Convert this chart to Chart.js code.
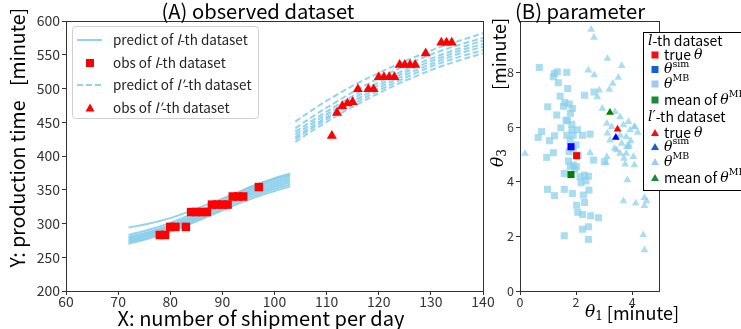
<!DOCTYPE html>
<html>
<head>
<meta charset="utf-8">
<script src="https://cdn.jsdelivr.net/npm/chart.js@4.4.1/dist/chart.umd.min.js"></script>
<style>
    body { margin: 0; background: #fff; width: 741px; height: 329px; overflow: hidden; position: relative; }
    canvas { position: absolute; top: 0; }
    #chartA { left: 0; }
    #chartB { left: 440px; }
</style>
</head>
<body>
<canvas id="chartA" width="500" height="329"></canvas>
<canvas id="chartB" width="301" height="329"></canvas>
<script>
// ---- (A) observed dataset ----
const lGridX = [72, 76, 80, 84, 88, 92, 96, 100, 103];
const lPredict = [
    [270, 278, 288, 300, 313, 326, 338, 348, 355],
    [272, 280, 290, 302, 315, 329, 341, 351, 358],
    [274, 282, 292, 304, 318, 332, 344, 354, 361],
    [276, 284, 294, 306, 320, 334, 347, 357, 364],
    [278, 286, 296, 308, 322, 337, 350, 360, 367],
    [280, 288, 298, 310, 324, 339, 353, 363, 370],
    [283, 291, 301, 313, 327, 342, 356, 367, 374],
    [294, 300, 308, 319, 331, 343, 356, 366, 372]
];
const lpGridX = [104, 108, 112, 116, 120, 124, 128, 132, 136, 140];
const lpPredict = [
    [421, 441, 460, 477, 493, 508, 521, 533, 543, 552],
    [425, 445, 464, 481, 497, 512, 526, 538, 548, 557],
    [428, 448, 467, 485, 501, 516, 530, 542, 553, 562],
    [432, 452, 471, 489, 505, 520, 534, 546, 557, 566],
    [436, 456, 475, 493, 509, 524, 538, 550, 561, 571],
    [441, 462, 481, 499, 515, 530, 544, 556, 566, 575],
    [451, 472, 491, 508, 523, 537, 550, 562, 572, 582]
];
const lObsX = [78, 79, 80, 81, 83, 84, 85, 86, 87, 88, 89, 90, 91, 92, 93, 94, 97];
const lObsY = [283, 283, 295, 295, 295, 317, 317, 317, 317, 328, 328, 328, 328, 340, 340, 340, 354];
const lpObsX = [111, 112, 113, 114, 115, 116, 118, 119, 120, 121, 122, 123, 124, 125, 126, 127, 129, 132, 133, 134];
const lpObsY = [430, 464, 474, 478, 480, 499, 499, 499, 517, 517, 517, 517, 535, 535, 535, 535, 552, 568, 568, 568];
const xTicksA = [60, 70, 80, 90, 100, 110, 120, 130, 140];
const yTicksA = [200, 250, 300, 350, 400, 450, 500, 550, 600];

// ---- (B) parameter ----
const mbSqX = [0.69, 1.23, 1.33, 1.19, 1.37, 1.67, 1.70, 1.43, 2.30, 2.64, 1.76, 1.55, 1.87, 0.99, 1.31, 1.64,
    1.46, 1.69, 1.85, 0.77, 0.65, 1.23, 1.05, 1.67, 1.90, 2.23, 2.50, 1.19, 0.95, 1.79, 1.75, 1.90, 1.73, 1.90,
    2.08, 1.79, 2.02, 2.14, 2.62, 3.01, 1.58, 2.30, 2.44, 2.18, 2.35, 0.98, 1.58, 1.23, 1.87, 2.46, 2.26, 2.30,
    2.02, 2.06, 2.23, 2.52, 2.80, 2.23, 2.44, 1.58, 2.44, 1.95, 2.05, 1.85, 1.60, 1.80, 2.00];
const mbSqY = [8.18, 7.96, 8.02, 7.84, 7.62, 8.00, 7.41, 7.13, 7.16, 7.28, 6.84, 6.76, 6.68, 6.74, 6.44, 6.25,
    5.97, 6.23, 5.89, 5.83, 5.62, 5.68, 5.50, 5.70, 5.70, 5.70, 5.74, 5.06, 4.89, 5.52, 5.10, 5.20, 4.76, 4.61,
    4.97, 4.55, 4.55, 4.18, 4.79, 4.73, 4.30, 4.24, 4.20, 3.96, 4.03, 3.72, 3.72, 3.49, 3.57, 3.69, 3.51, 3.24,
    3.14, 2.88, 2.80, 2.75, 2.68, 2.26, 2.35, 2.02, 1.89, 4.45, 5.90, 6.10, 6.90, 6.50, 5.35];
const mbTriX = [2.54, 2.64, 3.12, 2.44, 2.65, 3.63, 3.51, 3.31, 3.19, 2.83, 2.76, 2.94, 3.39, 3.57, 3.10, 3.27,
    3.69, 3.87, 4.08, 3.93, 3.12, 3.57, 3.79, 3.21, 3.63, 3.81, 3.45, 3.57, 0.18, 2.50, 3.37, 3.79, 3.89, 3.71,
    3.75, 3.07, 4.08, 3.83, 3.69, 4.13, 4.44, 4.52, 4.44, 4.40, 4.44, 4.10, 3.87, 4.05, 3.10, 3.95, 4.20];
const mbTriY = [9.57, 9.28, 8.51, 8.08, 7.90, 8.24, 7.81, 7.59, 7.37, 7.35, 7.10, 6.68, 6.56, 6.37, 6.13, 6.01,
    6.07, 6.19, 6.01, 5.89, 5.77, 5.70, 5.64, 5.52, 5.40, 5.28, 5.16, 5.03, 5.03, 5.06, 5.21, 5.03, 5.34, 4.85,
    4.64, 4.69, 4.61, 4.06, 3.29, 3.21, 3.41, 3.29, 3.12, 2.05, 1.50, 6.00, 5.28, 4.91, 4.91, 5.50, 5.80];
const lTrue = [2.02, 4.95], lSim = [1.82, 5.28], lMean = [1.82, 4.26];
const lpTrue = [3.48, 5.92], lpSim = [3.42, 5.62], lpMean = [3.21, 6.53];
const xTicksB = [0, 2, 4];
const yTicksB = [0, 2, 4, 6, 8];

const FONT = '"Noto Sans CJK JP", "Noto Sans", sans-serif';
const MATH = '"DejaVu Serif", serif';
const SKY = 'rgba(135, 206, 235, 0.9)';
const SKY_PT = 'rgba(135, 206, 235, 0.7)';

const pts = (xs, ys) => xs.map((x, i) => ({ x: x, y: ys[i] }));

// draw a row of text pieces with different fonts
function runs(ctx, parts, x, y, align) {
    let total = 0;
    parts.forEach(p => { ctx.font = p.f; p.w = ctx.measureText(p.t).width; total += p.w; });
    let cx = align === 'center' ? x - total / 2 : x;
    parts.forEach(p => { ctx.font = p.f; ctx.fillText(p.t, cx, y + (p.dy || 0)); cx += p.w; });
}

// font string whose text spans the given width
function fitFont(ctx, text, width) {
    ctx.font = '20px ' + FONT;
    const size = 20 * width / ctx.measureText(text).width;
    return size.toFixed(2) + 'px ' + FONT;
}

function axisScale(ticks, fontSize, fitSize, pad) {
    return {
        ticks: { font: { family: FONT, size: fontSize }, color: '#333', padding: pad },
        grid: { display: true, drawOnChartArea: false, drawTicks: true, tickLength: 4, color: '#333' },
        border: { display: false },
        afterBuildTicks: s => { s.ticks = ticks.map(v => ({ value: v })); },
        afterFit: fitSize
    };
}

const boxPlugin = {
    id: 'box',
    afterDatasetsDraw(chart) {
        const { ctx, chartArea: a } = chart;
        ctx.save();
        ctx.strokeStyle = '#333';
        ctx.lineWidth = 1;
        ctx.strokeRect(a.left + 0.5, a.top + 0.5, a.right - a.left, a.bottom - a.top);
        ctx.restore();
    }
};

// Panel A texts and legend
const textA = {
    id: 'textA',
    afterDraw(chart) {
        const ctx = chart.ctx;
        ctx.save();
        ctx.fillStyle = '#000';
        ctx.textBaseline = 'middle';
        ctx.textAlign = 'left';
        let t = '(A) observed dataset';
        runs(ctx, [{ t: t, f: fitFont(ctx, t, 193) }], 258, 11, 'center');
        t = 'X: number of shipment per day';
        runs(ctx, [{ t: t, f: fitFont(ctx, t, 287) }], 261, 318, 'center');
        ctx.save();
        ctx.translate(18, 0);
        ctx.rotate(-Math.PI / 2);
        runs(ctx, [{ t: 'Y: production time', f: '19.5px ' + FONT }], -184, 0, 'center');
        runs(ctx, [{ t: '[minute]', f: '19.5px ' + FONT }], -47, 0, 'center');
        ctx.restore();

        // legend box
        ctx.beginPath();
        ctx.roundRect(72.5, 26.5, 186, 92, 3);
        ctx.fillStyle = 'rgba(255,255,255,0.8)';
        ctx.fill();
        ctx.strokeStyle = '#d0d0d0';
        ctx.lineWidth = 1;
        ctx.stroke();

        ctx.strokeStyle = SKY;
        ctx.lineWidth = 2;
        ctx.beginPath(); ctx.moveTo(77, 40); ctx.lineTo(102, 40); ctx.stroke();
        ctx.setLineDash([6, 3]);
        ctx.beginPath(); ctx.moveTo(77, 85); ctx.lineTo(102, 85); ctx.stroke();
        ctx.setLineDash([]);
        ctx.fillStyle = '#ff0000';
        ctx.fillRect(86, 59, 8, 8);
        ctx.beginPath(); ctx.moveTo(90, 103.5); ctx.lineTo(94.5, 111.5); ctx.lineTo(85.5, 111.5); ctx.closePath(); ctx.fill();

        const n = '13.5px ' + FONT, it = 'italic 13.5px ' + FONT;
        ctx.fillStyle = '#222';
        runs(ctx, [{ t: 'predict of ', f: n }, { t: 'l', f: it }, { t: '-th dataset', f: n }], 113, 40);
        runs(ctx, [{ t: 'obs of ', f: n }, { t: 'l', f: it }, { t: '-th dataset', f: n }], 113, 63);
        runs(ctx, [{ t: 'predict of ', f: n }, { t: 'l\u2032', f: it }, { t: '-th dataset', f: n }], 113, 85);
        runs(ctx, [{ t: 'obs of ', f: n }, { t: 'l\u2032', f: it }, { t: '-th dataset', f: n }], 113, 108);
        ctx.restore();
    }
};

new Chart(document.getElementById('chartA'), {
    type: 'scatter',
    data: {
        datasets: [
            { data: pts(lObsX, lObsY), pointStyle: 'rect', pointRadius: 6, backgroundColor: '#ff0000', borderWidth: 0, order: 0 },
            { data: pts(lpObsX, lpObsY), pointStyle: 'triangle', pointRadius: 5.8, backgroundColor: '#ff0000', borderWidth: 0, order: 0 },
            ...lPredict.map(ys => ({
                data: pts(lGridX, ys), showLine: true, pointRadius: 0, borderColor: SKY, borderWidth: 2, tension: 0.4, order: 1
            })),
            ...lpPredict.map(ys => ({
                data: pts(lpGridX, ys), showLine: true, pointRadius: 0, borderColor: SKY, borderWidth: 2, tension: 0.4,
                borderDash: [6, 3], order: 1
            }))
        ]
    },
    options: {
        responsive: false,
        animation: false,
        layout: { padding: { left: 0, right: 17, top: 21, bottom: 0 } },
        plugins: { legend: { display: false }, tooltip: { enabled: false } },
        scales: {
            x: Object.assign({ type: 'linear', min: 60, max: 140 }, axisScale(xTicksA, 14, s => { s.height = 38; }, -2)),
            y: Object.assign({ type: 'linear', min: 200, max: 600 }, axisScale(yTicksA, 14, s => { s.width = 66; }, 2))
        }
    },
    plugins: [boxPlugin, textA]
});

// Panel B texts and legend
const textB = {
    id: 'textB',
    afterDraw(chart) {
        const ctx = chart.ctx;
        ctx.save();
        ctx.fillStyle = '#000';
        ctx.textBaseline = 'middle';
        const t = '(B) parameter';
        runs(ctx, [{ t: t, f: fitFont(ctx, t, 130) }], 140, 11, 'center');
        runs(ctx, [{ t: '\u03b8', f: 'italic 17px ' + MATH }, { t: '1', f: '12px ' + MATH, dy: 4 },
            { t: ' [minute]', f: '18px ' + FONT }], 192, 313, 'center');
        ctx.save();
        ctx.translate(59, 0);
        ctx.rotate(-Math.PI / 2);
        runs(ctx, [{ t: '\u03b8', f: 'italic 17px ' + MATH }, { t: '3', f: '12px ' + MATH, dy: 4 }], -158, 0, 'center');
        runs(ctx, [{ t: '[minute]', f: '18px ' + FONT }], -54, 0, 'center');
        ctx.restore();

        // legend
        ctx.fillStyle = '#fff';
        ctx.fillRect(203.5, 32.5, 120, 158);
        ctx.strokeStyle = '#000';
        ctx.lineWidth = 1;
        ctx.strokeRect(203.5, 32.5, 120, 158);

        const n = '14px ' + FONT, th = 'italic 14px ' + MATH, sup = '9.5px ' + MATH;
        ctx.fillStyle = '#000';
        runs(ctx, [{ t: 'l', f: th }, { t: '-th dataset', f: n }], 208, 41);
        runs(ctx, [{ t: 'l\u2032', f: th }, { t: '-th dataset', f: n }], 208, 117);
        const rows = [
            [55, '#ee1111', 'true'], [69.5, '#1560d0', 'sim'], [84, '#a0c8f8', 'MB'], [100, '#188a3a', 'mean'],
            [133, '#ee1111', 'true'], [147, '#1560d0', 'sim'], [162, '#a0c8f8', 'MB'], [178, '#188a3a', 'mean']
        ];
        rows.forEach((r, i) => {
            const y = r[0];
            ctx.fillStyle = r[1];
            if (i < 4) {
                ctx.fillRect(211.5, y - 3.5, 7, 7);
            } else {
                ctx.beginPath(); ctx.moveTo(215, y - 4); ctx.lineTo(219, y + 3); ctx.lineTo(211, y + 3); ctx.closePath(); ctx.fill();
            }
            ctx.fillStyle = '#000';
            let parts;
            if (r[2] === 'true') parts = [{ t: 'true ', f: n }, { t: '\u03b8', f: th }];
            else if (r[2] === 'mean') parts = [{ t: 'mean of ', f: n }, { t: '\u03b8', f: th }, { t: 'MB', f: sup, dy: -5 }];
            else parts = [{ t: '\u03b8', f: th }, { t: r[2], f: sup, dy: -5 }];
            runs(ctx, parts, 224, y);
        });
        ctx.restore();
    }
};

new Chart(document.getElementById('chartB'), {
    type: 'scatter',
    data: {
        datasets: [
            { data: [{ x: lTrue[0], y: lTrue[1] }], pointStyle: 'rect', pointRadius: 5, backgroundColor: '#ff0000', borderWidth: 0, order: 0 },
            { data: [{ x: lSim[0], y: lSim[1] }], pointStyle: 'rect', pointRadius: 5, backgroundColor: '#0000ff', borderWidth: 0, order: 0 },
            { data: [{ x: lMean[0], y: lMean[1] }], pointStyle: 'rect', pointRadius: 5, backgroundColor: '#008000', borderWidth: 0, order: 0 },
            { data: [{ x: lpTrue[0], y: lpTrue[1] }], pointStyle: 'triangle', pointRadius: 4.5, backgroundColor: '#ff0000', borderWidth: 0, order: 0 },
            { data: [{ x: lpSim[0], y: lpSim[1] }], pointStyle: 'triangle', pointRadius: 4.5, backgroundColor: '#0000ff', borderWidth: 0, order: 0 },
            { data: [{ x: lpMean[0], y: lpMean[1] }], pointStyle: 'triangle', pointRadius: 4.5, backgroundColor: '#008000', borderWidth: 0, order: 0 },
            { data: pts(mbSqX, mbSqY), pointStyle: 'rect', pointRadius: 5, backgroundColor: SKY_PT, borderWidth: 0, order: 1 },
            { data: pts(mbTriX, mbTriY), pointStyle: 'triangle', pointRadius: 4.5, backgroundColor: SKY_PT, borderWidth: 0, order: 1 }
        ]
    },
    options: {
        responsive: false,
        animation: false,
        layout: { padding: { left: 0, right: 82, top: 21, bottom: 0 } },
        plugins: { legend: { display: false }, tooltip: { enabled: false } },
        scales: {
            x: Object.assign({ type: 'linear', min: 0, max: 4.96 }, axisScale(xTicksB, 12.5, s => { s.height = 38; }, 0)),
            y: Object.assign({ type: 'linear', min: 0, max: 9.88 }, axisScale(yTicksB, 12.5, s => { s.width = 80; }, 2))
        }
    },
    plugins: [boxPlugin, textB]
});
</script>
</body>
</html>
